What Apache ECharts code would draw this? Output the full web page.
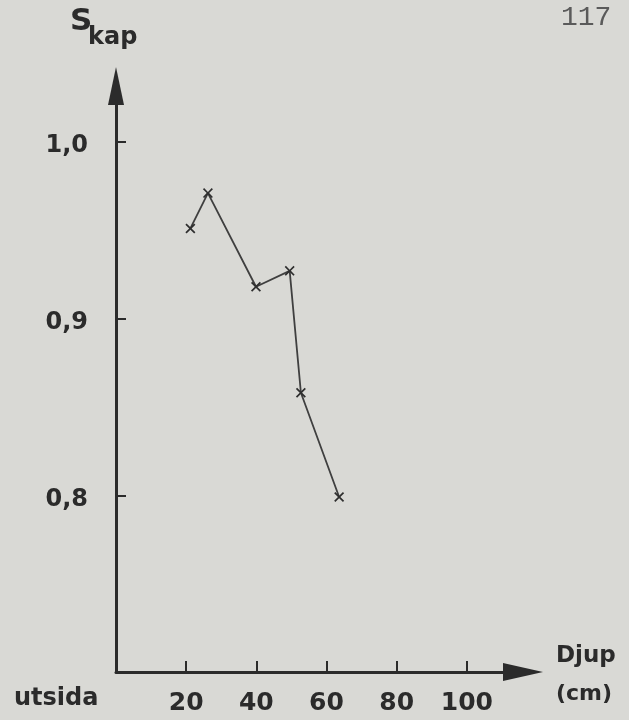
<!DOCTYPE html>
<html>
<head>
<meta charset="utf-8">
<script src="https://cdn.jsdelivr.net/npm/echarts@6/dist/echarts.min.js"></script>
<style>
html,body{margin:0;padding:0;background:#d9d9d5;}
#chart{width:629px;height:720px;}
</style>
</head>
<body>
<div id="chart"></div>
<script>
// Data
const depths = [21.2, 26.2, 39.9, 49.5, 52.7, 63.6];      // Djup (cm)
const skapValues = [0.951, 0.971, 0.918, 0.927, 0.858, 0.799]; // S_kap
const xTickValues = [20, 40, 60, 80, 100];
const yTickValues = [0.8, 0.9, 1.0];

const ink = '#2b2b2b';
const fontFam = '"DejaVu Sans", sans-serif';
const crossPath = 'path://M0,1.2 L1.2,0 L5,3.8 L8.8,0 L10,1.2 L6.2,5 L10,8.8 L8.8,10 L5,6.2 L1.2,10 L0,8.8 L3.8,5Z';

const chart = echarts.init(document.getElementById('chart'), null, {renderer: 'canvas'});
chart.setOption({
  backgroundColor: '#d9d9d5',
  animation: false,
  grid: {left: 116, right: 106, top: 86, bottom: 48, containLabel: false},
  xAxis: {
    type: 'value', min: 0, max: 116, interval: 20,
    splitLine: {show: false},
    axisLine: {lineStyle: {color: ink, width: 3}, symbol: ['none', 'triangle'], symbolSize: [18, 40]},
    axisTick: {inside: true, length: 11, lineStyle: {color: ink, width: 2}, customValues: xTickValues},
    axisLabel: {customValues: xTickValues, margin: 19, color: ink, fontSize: 25, fontWeight: 'bold', fontFamily: fontFam}
  },
  yAxis: {
    type: 'value', min: 0.7, max: 1.0316, interval: 0.1,
    splitLine: {show: false},
    axisLine: {onZero: false, lineStyle: {color: ink, width: 3}, symbol: ['none', 'triangle'], symbolSize: [16, 38]},
    axisTick: {inside: true, length: 10, lineStyle: {color: ink, width: 2}, customValues: yTickValues},
    axisLabel: {customValues: yTickValues, margin: 28, verticalAlign: 'top', lineHeight: 8, color: ink, fontSize: 24, fontWeight: 'bold', fontFamily: fontFam,
      formatter: v => v.toFixed(1).replace('.', ',')}
  },
  series: [{
    type: 'line',
    data: depths.map((d, i) => [d, skapValues[i]]),
    lineStyle: {color: '#3f3f3f', width: 1.8},
    symbol: crossPath, symbolSize: 10,
    itemStyle: {color: '#2e2e2e'}
  }],
  graphic: [
    {type: 'text', left: 70, top: 6, style: {text: 'S', fontSize: 31, fontWeight: 'bold', fontFamily: fontFam, fill: ink}},
    {type: 'text', left: 88, top: 26, style: {text: 'kap', fontSize: 24, fontWeight: 'bold', fontFamily: fontFam, fill: ink}},
    {type: 'text', left: 561, top: 4, style: {text: '117', fontSize: 28, fontFamily: '"Liberation Mono", monospace', fill: '#5a5a5a'}},
    {type: 'text', left: 556, top: 645, style: {text: 'Djup', fontSize: 23, fontWeight: 'bold', fontFamily: fontFam, fill: ink}},
    {type: 'text', left: 556, top: 683, style: {text: '(cm)', fontSize: 22, fontWeight: 'bold', fontFamily: fontFam, fill: ink}},
    {type: 'text', left: 14, top: 687, style: {text: 'utsida', fontSize: 24, fontWeight: 'bold', fontFamily: fontFam, fill: ink}}
  ]
});
</script>
</body>
</html>
